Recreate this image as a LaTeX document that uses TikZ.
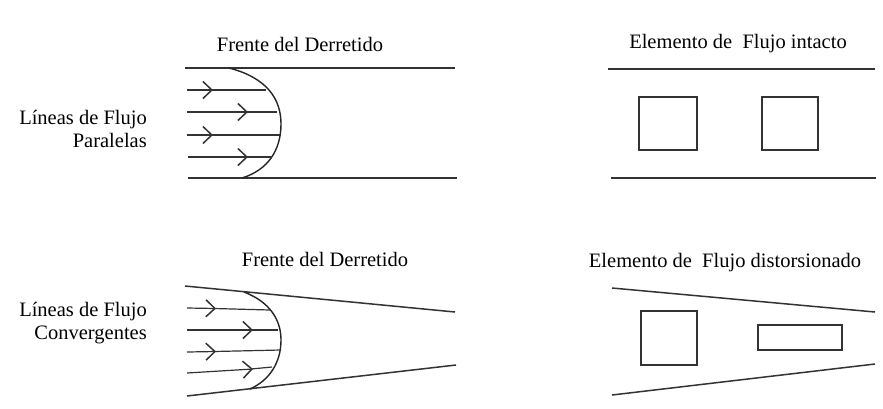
\documentclass[tikz,border=0pt]{standalone}
\usepackage{fontspec}
\setmainfont{Liberation Serif}
\usetikzlibrary{arrows.meta}

\begin{document}
\begin{tikzpicture}[
    x=1pt, y=-1pt,
    wall/.style={line width=1.5pt, draw=black!80},
    flow/.style={line width=1.2pt, draw=black!80},
    chev/.style={flow, -{Straight Barb[length=9pt,width=17pt,line width=1.5pt]}},
    front/.style={line width=1.4pt, draw=black!85},
    elem/.style={line width=1.5pt, draw=black!80},
    lbl/.style={font=\fontsize{20.5}{23.5}\selectfont, inner sep=0pt},
    side/.style={lbl, align=right, anchor=east}
]
    \useasboundingbox[fill=white] (0,0) rectangle (883,408);

    % --- paralelas
    \node[lbl] (frenteA) at (300,44) {Frente del Derretido};
    \node[side] (ladoA) at (147,129) {Líneas de Flujo\\Paralelas};

    \coordinate (a1) at (185,68);  \coordinate (a2) at (455,68);
    \coordinate (a3) at (188,178); \coordinate (a4) at (457,178);
    \draw[wall] (a1) -- (a2);
    \draw[wall] (a3) -- (a4);
    \draw[front] (229,68) .. controls (268,78) and (281,100) .. (281,124)
        .. controls (281,150) and (268,170) .. (242,178);

    \draw[chev] (187,90) -- (213,90);  \draw[flow] (211,90) -- (266,90);
    \draw[chev] (187,112) -- (248,112); \draw[flow] (246,112) -- (277,112);
    \draw[chev] (187,135) -- (213,135); \draw[flow] (211,135) -- (281,135);
    \draw[chev] (188,157) -- (248,157); \draw[flow] (246,157) -- (272,157);

    \node[lbl] (elemA) at (738,44) {Elemento de~ Flujo intacto};
    \coordinate (b1) at (608,69);  \coordinate (b2) at (875,69);
    \coordinate (b3) at (611,178); \coordinate (b4) at (876,178);
    \draw[wall] (b1) -- (b2);
    \draw[wall] (b3) -- (b4);
    \draw[elem] (639,97) rectangle (697,150);
    \draw[elem] (762,97) rectangle (818,150);

    % --- convergentes
    \node[lbl] (frenteB) at (325,259) {Frente del Derretido};
    \node[side] (ladoB) at (147,323) {Líneas de Flujo\\Convergentes};

    \coordinate (c1) at (185,286); \coordinate (c2) at (455,312);
    \coordinate (c3) at (187,396); \coordinate (c4) at (456,365);
    \draw[wall] (c1) -- (c2);
    \draw[wall] (c3) -- (c4);
    \draw[front] (244,292) .. controls (270,302) and (281,320) .. (281,340)
        .. controls (281,362) and (270,380) .. (250,389);

    \draw[chev] (187,308) -- (216,308.5); \draw[flow] (214,308.5) -- (270,310);
    \draw[chev] (187,330) -- (253,330);   \draw[flow] (251,330) -- (278,330);
    \draw[chev] (187,352) -- (216,351.5); \draw[flow] (214,351.5) -- (281,350);
    \draw[chev] (187,373) -- (253,369);   \draw[flow] (251,369) -- (272,367);

    \node[lbl] (elemB) at (725,263) {Elemento de~ Flujo distorsionado};
    \coordinate (d1) at (612,288); \coordinate (d2) at (875,312);
    \coordinate (d3) at (612,395); \coordinate (d4) at (875,364);
    \draw[wall] (d1) -- (d2);
    \draw[wall] (d3) -- (d4);
    \draw[elem] (641,311) rectangle (697,365);
    \draw[elem] (758,325) rectangle (842,350);
\end{tikzpicture}
\end{document}
